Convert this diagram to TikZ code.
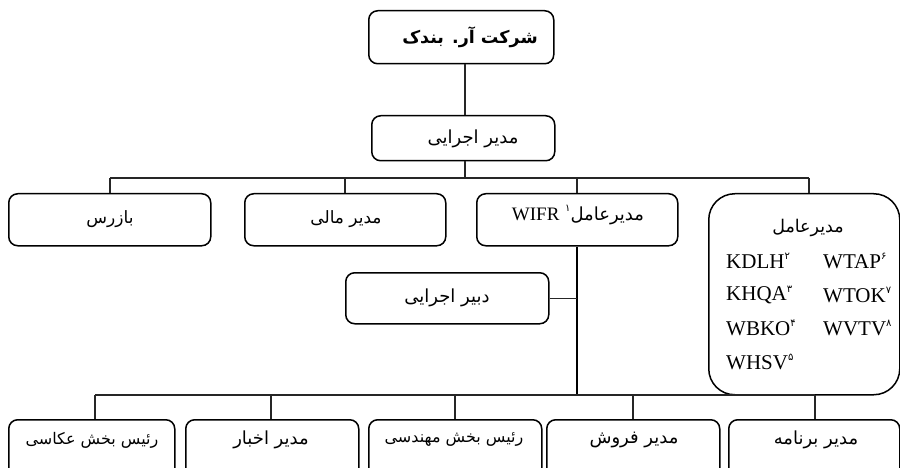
\documentclass[tikz,border=0pt]{standalone}
\usepackage{fontspec}
\TeXXeTstate=1
\newfontfamily\fa[Script=Arabic]{DejaVu Sans}
\newfontfamily\tnr{Liberation Serif}
\newcommand{\fatext}[1]{{\fa\beginR #1\endR}}
\newcommand{\supfa}[1]{\raisebox{0.9ex}{\fa\fontsize{10}{10}\selectfont\beginR #1\endR}}
\begin{document}
\begin{tikzpicture}[x=1pt,y=-1pt,
  box/.style={draw=black,line width=1.5pt,rounded corners=9pt,inner sep=0pt,anchor=north west},
  lbl/.style={inner sep=0pt,font=\fa\fontsize{18}{20}\selectfont},
  small/.style={inner sep=0pt,font=\fa\fontsize{16}{18}\selectfont},
  conn/.style={draw=black!85,line width=1.1pt},
  mainconn/.style={draw=black,line width=1.6pt}]
\useasboundingbox (0,0) rectangle (900,468);
% top
\node[box,minimum width=185pt,minimum height=53pt] (top) at (368,10) {};
\node[inner sep=0pt,font=\fa\bfseries\fontsize{17.5}{20}\selectfont] (toptxt) at (470,37) {\beginR شرکت آر. بندک\endR};
\node[box,minimum width=183pt,minimum height=45pt] (ceo) at (371,115) {};
\node[lbl] (ceotxt) at (473,139) {\fatext{مدیر اجرایی}};
% row 2
\node[box,minimum width=202pt,minimum height=52pt] (baz) at (8,193) {};
\node[lbl,font=\fa\fontsize{17}{20}\selectfont] (baztxt) at (110,219) {\fatext{بازرس}};
\node[box,minimum width=201pt,minimum height=52pt] (mali) at (244,193) {};
\node[lbl,font=\fa\fontsize{17}{20}\selectfont] (malitxt) at (346,219) {\fatext{مدیر مالی}};
\node[box,minimum width=201pt,minimum height=52pt] (wifr) at (476,193) {};
\node[lbl] (wifrtxt) at (578,215) {{\tnr\fontsize{19}{20}\selectfont WIFR}~\supfa{۱}\fatext{مدیرعامل}};
\node[box,rounded corners=26pt,minimum width=191pt,minimum height=201pt] (gm) at (708,193) {};
\node[lbl,font=\fa\fontsize{17.5}{20}\selectfont] (gmtxt) at (808,228) {\fatext{مدیرعامل}};
\tikzset{lat/.style={inner sep=0pt,anchor=west,font=\tnr\fontsize{21}{22}\selectfont}}
\node[lat] (s1) at (726,261) {KDLH\supfa{۲}};
\node[lat] (s2) at (726,295) {KHQA\supfa{۳}};
\node[lat] (s3) at (726,328) {WBKO\supfa{۴}};
\node[lat] (s4) at (726,362) {WHSV\supfa{۵}};
\node[lat] (s6) at (823,261) {WTAP\supfa{۶}};
\node[lat] (s7) at (823,295) {WTOK\supfa{۷}};
\node[lat] (s8) at (823,328) {WVTV\supfa{۸}};
% secretary
\node[box,minimum width=203pt,minimum height=51pt] (dab) at (345,272) {};
\node[lbl] (dabtxt) at (447,298) {\fatext{دبیر اجرایی}};
% bottom row
\node[box,minimum width=166pt,minimum height=60pt] (b1) at (8,419) {};
\node[small] (b1txt) at (92,440) {\fatext{رئیس بخش عکاسی}};
\node[box,minimum width=173pt,minimum height=60pt] (b2) at (185,419) {};
\node[lbl] (b2txt) at (271,440) {\fatext{مدیر اخبار}};
\node[box,minimum width=173pt,minimum height=60pt] (b3) at (368,419) {};
\node[small] (b3txt) at (454,440) {\fatext{رئیس بخش مهندسی}};
\node[box,minimum width=173pt,minimum height=60pt] (b4) at (546,419) {};
\node[lbl] (b4txt) at (634,440) {\fatext{مدیر فروش}};
\node[box,minimum width=171pt,minimum height=60pt] (b5) at (728,419) {};
\node[lbl] (b5txt) at (816,440) {\fatext{مدیر برنامه}};
% connectors
\coordinate (h1) at (465,178);
\draw[conn] (top.south -| h1) -- (ceo.north -| h1);
\draw[conn] (ceo.south -| h1) -- (h1);
\draw[conn] (110,178) coordinate (hl) -- (809,178) coordinate (hr);
\draw[conn] (hl) -- (baz.north -| hl);
\draw[conn] (345,178) -- (mali.north -| 345,0);
\draw[conn] (577,178) -- (wifr.north -| 577,0);
\draw[conn] (hr) -- (gm.north -| hr);
\coordinate (vb) at (577,395);
\draw[mainconn] (wifr.south -| vb) -- (vb);
\draw[conn] (dab.east) -- (dab.east -| vb);
\draw[conn] (95,395) coordinate (bl) -- (815,395) coordinate (br);
\draw[conn] (bl) -- (b1.north -| bl);
\draw[conn] (271,395) -- (b2.north -| 271,0);
\draw[conn] (455,395) -- (b3.north -| 455,0);
\draw[conn] (633,395) -- (b4.north -| 633,0);
\draw[conn] (br) -- (b5.north -| br);
\end{tikzpicture}
\end{document}
